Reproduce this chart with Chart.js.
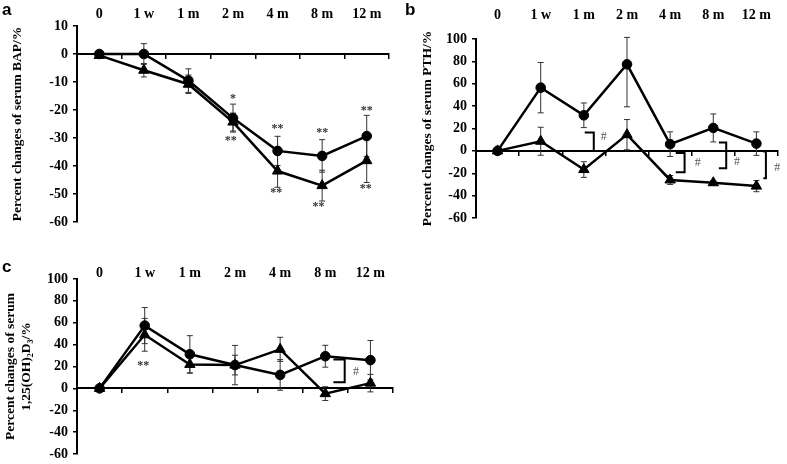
<!DOCTYPE html>
<html lang="en">
<head>
<meta charset="UTF-8">
<title>Percent changes of serum BAP, PTH and 1,25(OH)2D3</title>
<script src="https://cdn.jsdelivr.net/npm/chart.js@4"></script>
<style>
  body { margin: 0; background: #fff; }
  #wrap { position: relative; width: 787px; height: 464px; overflow: hidden; }
  .panel { position: absolute; }
  .letter { position: absolute; font: bold 17px "Liberation Sans", Arial, sans-serif; line-height: 17px; color: #000; }
</style>
</head>
<body>
<div id="wrap">
  <canvas id="chartA" class="panel" width="396" height="234" style="left:0;top:0"></canvas>
  <canvas id="chartB" class="panel" width="387" height="230" style="left:400px;top:0"></canvas>
  <canvas id="chartC" class="panel" width="400" height="236" style="left:0;top:230px"></canvas>
  <div class="letter" style="left:2px;top:1px">a</div>
  <div class="letter" style="left:405px;top:1px">b</div>
  <div class="letter" style="left:2px;top:258px">c</div>
</div>

<script>
  // time points (same for all panels)
  const timeLabels = ['0', '1 w', '1 m', '2 m', '4 m', '8 m', '12 m'];

  // a: serum BAP (%)
  const bapCircle = [0, 0, -9.5, -22.9, -34.6, -36.4, -29.3];
  const bapCircleErr = [0, 3.7, 4.2, 5, 5.2, 5.8, 7.4];
  const bapTriangle = [-0.5, -5.8, -10.8, -24.3, -41.8, -47, -38.1];
  const bapTriangleErr = [0, 2.4, 3.3, 3.2, 5.8, 5.5, 7.8];

  // b: serum PTH (%)
  const pthCircle = [0, 56.5, 31.8, 77.4, 6, 20.5, 6.5];
  const pthCircleErr = [0, 22.5, 11, [38, 24], 11, 12.5, 10.5];
  const pthTriangle = [0, 8.6, -16.7, 14.5, -26, -28.5, -31.5];
  const pthTriangleErr = [0, 12.5, 7, 13.5, 4, 2, 5];

  // c: serum 1,25(OH)2D3 (%)
  const vdCircle = [0, 57.4, 31.2, 21.3, 12.3, 29.4, 25.8];
  const vdCircleErr = [0, 16.5, 17, 18, 14, 10, 18];
  const vdTriangle = [0, 49, 21.9, 21.3, 35.7, -4.8, 4.8];
  const vdTriangleErr = [0, 15, 8, 9, 11, 6.3, 8];

  const SERIF = '"Liberation Serif", "Times New Roman", serif';

  // error bars, drawn from the dataset values through the scales
  const errorBars = {
    id: 'errorBars',
    beforeDatasetsDraw(chart) {
      const { ctx } = chart;
      const x = chart.scales.x, y = chart.scales.y;
      ctx.save();
      ctx.strokeStyle = '#333';
      ctx.lineWidth = 1;
      chart.data.datasets.forEach(ds => {
        (ds.errors || []).forEach((e, i) => {
          if (!e) return;
          const down = Array.isArray(e) ? e[0] : e;
          const up = Array.isArray(e) ? e[1] : e;
          const px = x.getPixelForValue(i);
          const top = y.getPixelForValue(ds.data[i] + up);
          const bot = y.getPixelForValue(ds.data[i] - down);
          ctx.beginPath();
          ctx.moveTo(px, top); ctx.lineTo(px, bot);
          ctx.moveTo(px - 3, top); ctx.lineTo(px + 3, top);
          ctx.moveTo(px - 3, bot); ctx.lineTo(px + 3, bot);
          ctx.stroke();
        });
      });
      ctx.restore();
    }
  };

  // significance marks (* / **) and "#" brackets
  const marks = {
    id: 'marks',
    afterDatasetsDraw(chart, args, opts) {
      const { ctx } = chart;
      const x = chart.scales.x, y = chart.scales.y;
      ctx.save();
      ctx.textAlign = 'center';
      ctx.textBaseline = 'middle';
      ctx.fillStyle = '#333';
      ctx.font = 'bold 12px ' + SERIF;
      (opts.stars || []).forEach(s => {
        ctx.fillText(s.t, x.getPixelForValue(s.x), y.getPixelForValue(s.y));
      });
      ctx.strokeStyle = '#000';
      ctx.lineWidth = 2;
      (opts.brackets || []).forEach(b => {
        const xa = x.getPixelForValue(b.i + b.arm), xv = x.getPixelForValue(b.i + b.v);
        ctx.beginPath();
        ctx.moveTo(xa, y.getPixelForValue(b.top));
        ctx.lineTo(xv, y.getPixelForValue(b.top));
        ctx.lineTo(xv, y.getPixelForValue(b.bot));
        ctx.lineTo(xa, y.getPixelForValue(b.bot));
        ctx.stroke();
      });
      ctx.fillStyle = '#555';
      ctx.font = '12px ' + SERIF;
      (opts.hashes || []).forEach(h => {
        ctx.fillText('#', x.getPixelForValue(h.x), y.getPixelForValue(h.y));
      });
      ctx.restore();
    }
  };

  function series(values, errors, style, radius) {
    return {
      data: values,
      errors: errors,
      borderColor: '#000',
      backgroundColor: '#000',
      borderWidth: 2.5,
      pointStyle: style,
      pointRadius: radius,
      pointBorderWidth: 1,
      tension: 0
    };
  }

  function panel(id, p) {
    return new Chart(document.getElementById(id), {
      type: 'line',
      data: {
        labels: timeLabels,
        datasets: [
          series(p.circle, p.circleErr, 'circle', 4.8),
          series(p.triangle, p.triangleErr, 'triangle', 6)
        ]
      },
      options: {
        responsive: false,
        animation: false,
        devicePixelRatio: 1,
        layout: { padding: { left: 0, top: 0, right: p.padRight, bottom: p.padBottom } },
        plugins: {
          legend: { display: false },
          tooltip: { enabled: false },
          marks: { stars: p.stars, brackets: p.brackets, hashes: p.hashes }
        },
        scales: {
          x: {
            type: 'category',
            position: 'top',
            offset: true,
            grid: { display: false, drawTicks: false },
            border: { display: false },
            ticks: {
              font: { family: SERIF, size: 14, weight: 'bold', lineHeight: 1.2 },
              color: '#000', padding: p.labelPad, maxRotation: 0, autoSkip: false
            },
            afterFit: s => { s.height = p.top; }
          },
          x0: {
            type: 'category',
            axis: 'x',
            labels: timeLabels,
            position: { y: 0 },
            offset: true,
            grid: { offset: true, drawOnChartArea: false, drawTicks: true, tickLength: 4, color: '#000', lineWidth: 1.5 },
            border: { display: true, color: '#000', width: 2 },
            ticks: { display: false }
          },
          y: {
            position: 'left',
            min: p.min,
            max: p.max,
            ticks: {
              stepSize: p.step,
              font: { family: SERIF, size: 14, weight: 'bold', lineHeight: 1 },
              color: '#000', padding: 5
            },
            grid: { drawOnChartArea: false, drawTicks: true, tickLength: 4, color: '#000', lineWidth: 1.5 },
            border: { color: '#000', width: 2 },
            title: {
              display: true,
              text: p.title,
              color: '#000',
              font: { family: SERIF, size: 13.5, weight: 'bold', lineHeight: 1.2 },
              padding: { top: p.titlePad, bottom: 0 }
            },
            afterFit: s => { s.width = p.left; }
          }
        }
      },
      plugins: [errorBars, marks]
    });
  }

  panel('chartA', {
    circle: bapCircle, circleErr: bapCircleErr,
    triangle: bapTriangle, triangleErr: bapTriangleErr,
    min: -60, max: 10, step: 10,
    title: 'Percent changes of serum BAP/%',
    left: 77, top: 26, padRight: 6, padBottom: 8, labelPad: 3, titlePad: 9,
    stars: [
      { x: 3, y: -15.9, t: '*' }, { x: 2.95, y: -31, t: '**' },
      { x: 4, y: -26.8, t: '**' }, { x: 3.97, y: -49.7, t: '**' },
      { x: 5, y: -28.1, t: '**' }, { x: 4.92, y: -54.6, t: '**' },
      { x: 6, y: -20.5, t: '**' }, { x: 5.98, y: -48.2, t: '**' }
    ]
  });

  panel('chartB', {
    circle: pthCircle, circleErr: pthCircleErr,
    triangle: pthTriangle, triangleErr: pthTriangleErr,
    min: -60, max: 100, step: 20,
    title: 'Percent changes of serum PTH/%',
    left: 76, top: 39, padRight: 4, padBottom: 12, labelPad: 15.5, titlePad: 19,
    brackets: [
      { i: 2, arm: 0.02, v: 0.23, top: 16.4, bot: 0 },
      { i: 4, arm: 0.13, v: 0.335, top: -2, bot: -19 },
      { i: 5, arm: 0.13, v: 0.3, top: 7.4, bot: -15.5 },
      { i: 6, arm: 0.16, v: 0.22, top: -0.6, bot: -24.4 }
    ],
    hashes: [
      { x: 2.46, y: 12.2 }, { x: 4.64, y: -10.4 }, { x: 5.55, y: -10 }, { x: 6.48, y: -15.5 }
    ]
  });

  panel('chartC', {
    circle: vdCircle, circleErr: vdCircleErr,
    triangle: vdTriangle, triangleErr: vdTriangleErr,
    min: -60, max: 100, step: 20,
    title: ['Percent changes of serum', '1,25(OH)\u2082D\u2083/%'],
    left: 77, top: 49, padRight: 2, padBottom: 8, labelPad: -2.5, titlePad: 2,
    stars: [{ x: 0.97, y: 20.5, t: '**' }],
    brackets: [{ i: 5, arm: 0.18, v: 0.43, top: 26.4, bot: 5.5 }],
    hashes: [{ x: 5.68, y: 15 }]
  });
</script>
</body>
</html>
